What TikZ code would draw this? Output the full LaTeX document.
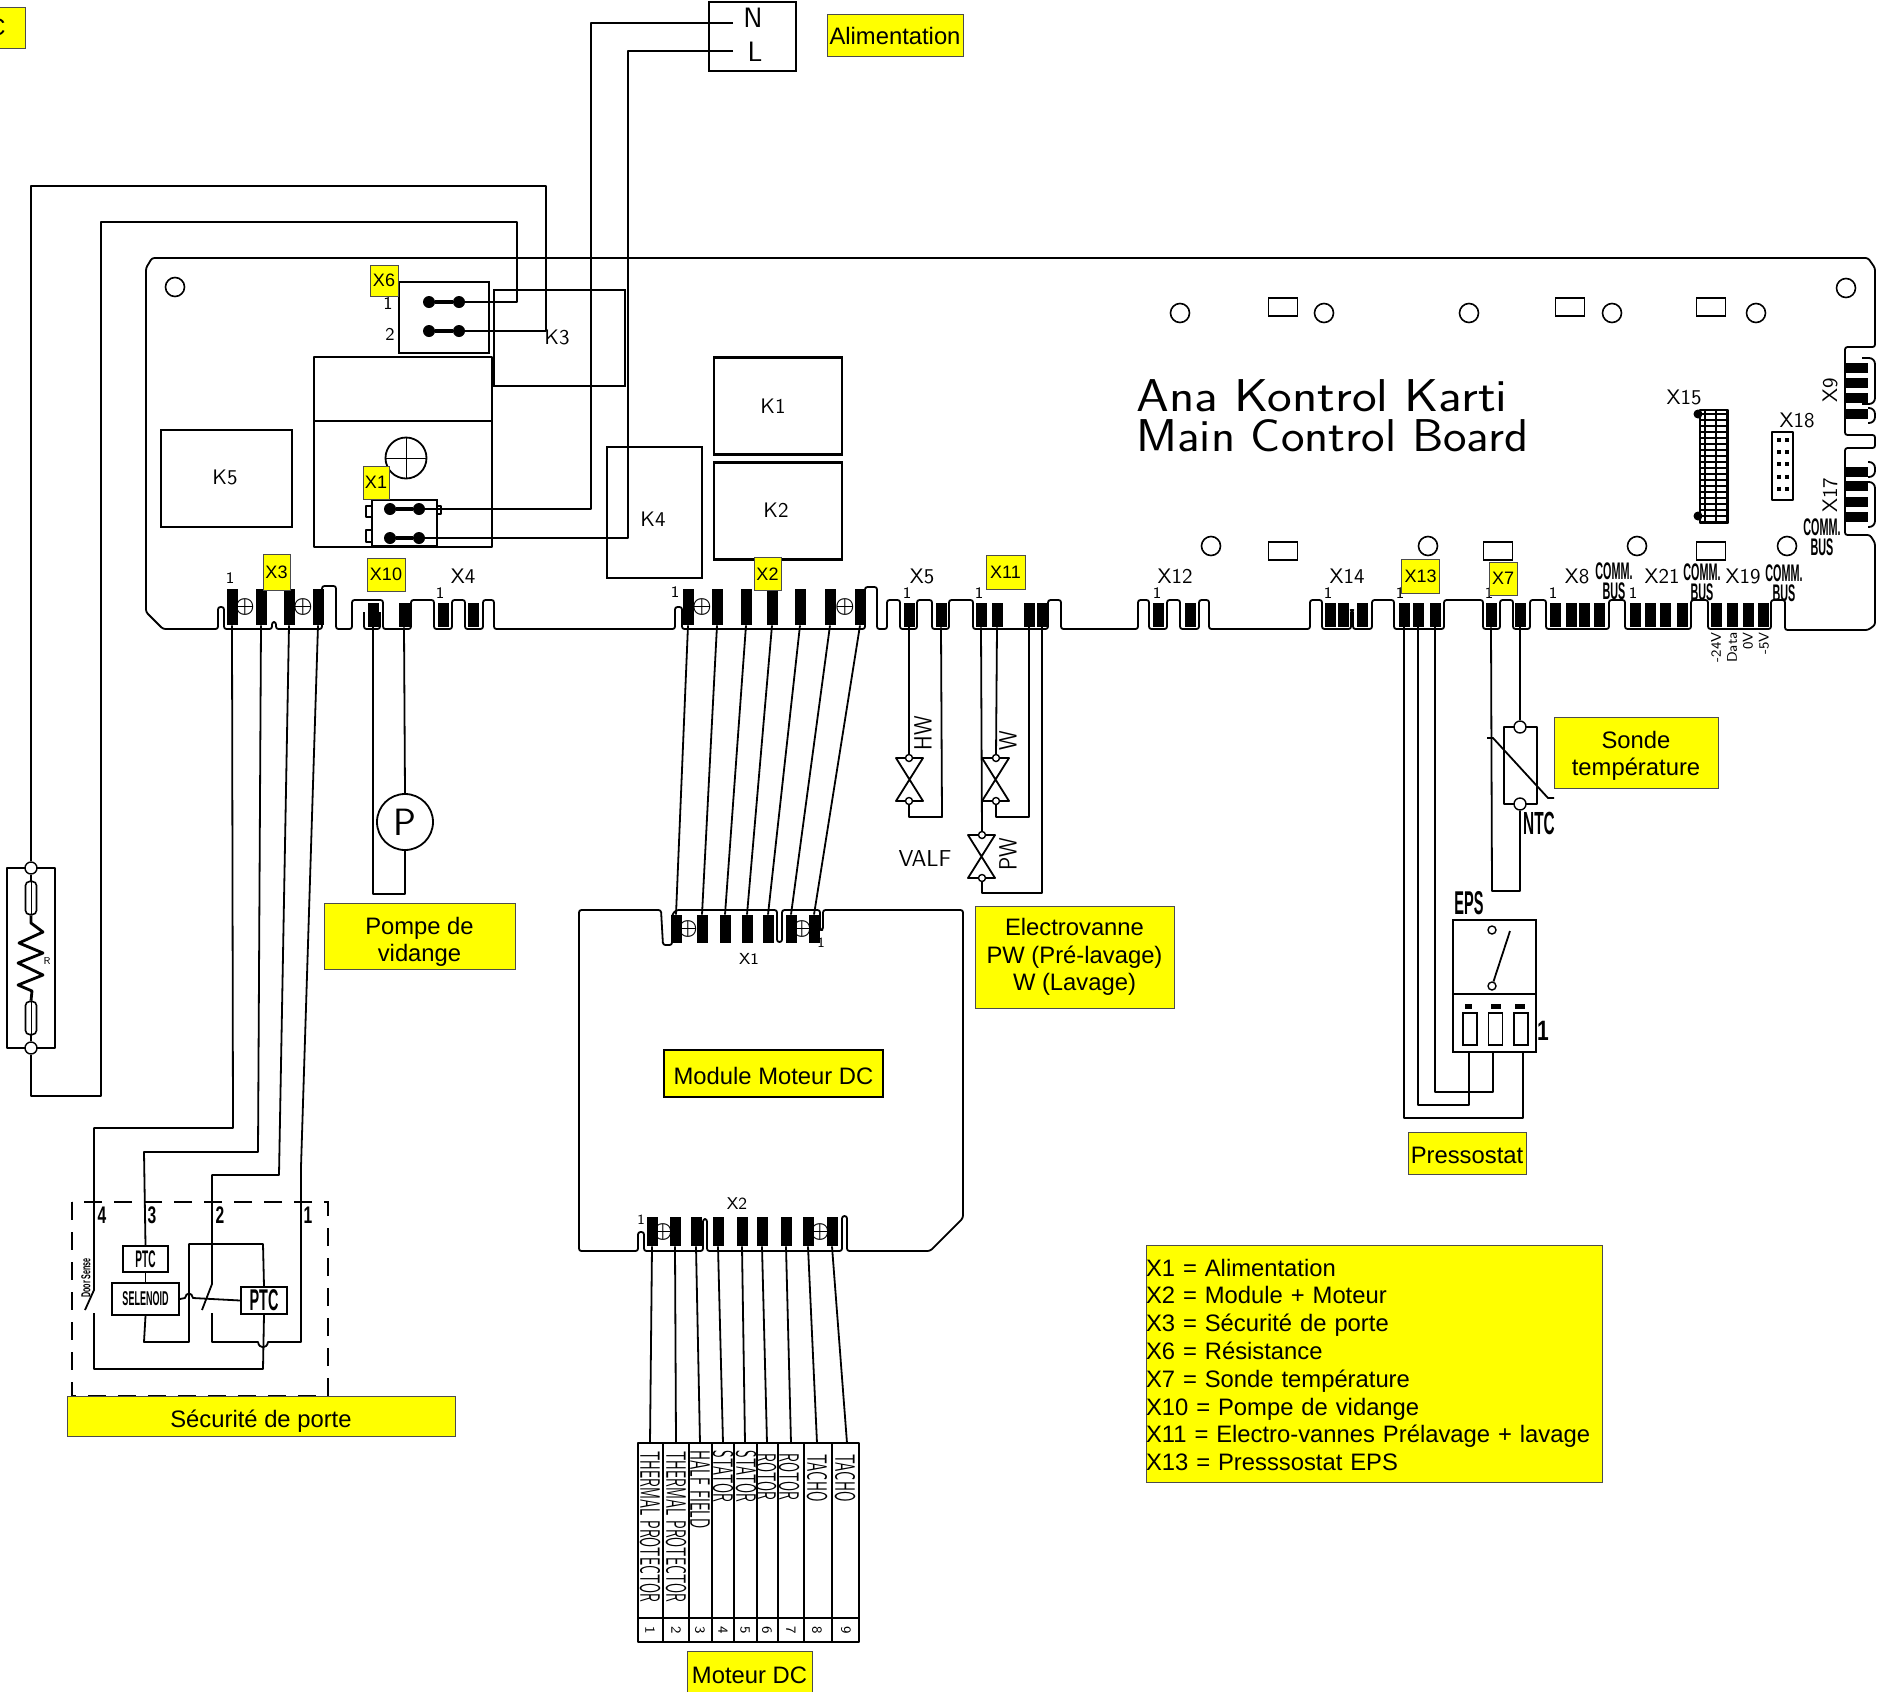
\documentclass[tikz,border=0pt]{standalone}
\usepackage{fontspec}
\usepackage{graphicx}
\setmainfont{Liberation Sans}
\usetikzlibrary{positioning, backgrounds}
\definecolor{labelyellow}{rgb}{1.0, 1.0, 0.0}
\definecolor{labeledge}{rgb}{0.3, 0.3, 0.3}
\newcommand{\cadsize}[1]{\sffamily\fontsize{#1}{#1}\selectfont}
\newcommand{\heavysize}[1]{\rmfamily\bfseries\fontsize{#1}{#1}\selectfont}
\newcommand{\squeezed}[2][.45]{\scalebox{#1}[1]{#2}}
\newcommand{\lowered}[1]{\rule{0pt}{#1}}
\begin{document}
\begin{tikzpicture}[
  x=0.5pt,
  y=-0.5pt,
  wire/.style={
    draw=black,
    line width=0.9pt,
    line join=round
  },
  board/.style={
    wire,
    rounded corners=1.2pt
  },
  relay/.style={
    draw=black,
    line width=1.2pt,
    inner sep=0pt,
    font=\cadsize{10.5}
  },
  contact/.style={
    fill=black,
    inner sep=0pt,
    minimum width=5.5pt,
    minimum height=18pt
  },
  contact low/.style={
    contact,
    minimum height=12pt
  },
  contact side/.style={
    fill=black,
    inner sep=0pt,
    minimum width=11pt,
    minimum height=5pt
  },
  stud/.style={
    circle,
    fill=black,
    inner sep=0pt,
    minimum size=6pt
  },
  term/.style={
    circle,
    draw=black,
    fill=white,
    line width=0.7pt,
    inner sep=0pt,
    minimum size=6pt
  },
  term small/.style={
    term,
    minimum size=3.5pt
  },
  hole/.style={
    circle,
    draw=black,
    line width=0.8pt,
    inner sep=0pt,
    minimum size=9.5pt
  },
  pad/.style={
    draw=black,
    line width=0.8pt,
    inner sep=0pt,
    minimum width=14.5pt,
    minimum height=9pt
  },
  screw/.style={
    inner sep=0pt,
    font=\fontsize{10.5}{10.5}\selectfont\boldmath
  },
  cad/.style={
    inner sep=0pt,
    font=\cadsize{10.5}
  },
  commbus/.style={
    inner sep=0pt,
    align=center,
    font=\heavysize{12}
  },
  tag/.style={
    fill=labelyellow,
    draw=labeledge,
    line width=0.5pt,
    inner sep=0pt,
    align=center,
    font=\fontsize{11.9}{13.6}\selectfont
  },
  tag small/.style={
    tag,
    font=\fontsize{9}{9}\selectfont
  }
]

\useasboundingbox (0,0) rectangle (1886,1692);

\draw[board] (152,258) -- (1868,258) -- (1875,268) -- (1875,347) -- (1845,347) -- (1845,435) -- (1875,435) -- (1875,448) -- (1845,448) -- (1845,535) -- (1870,535) -- (1875,543) -- (1875,625) -- (1868,630) -- (1785,630) -- (1785,600) -- (1771,600) -- (1771,629) -- (1708,629) -- (1708,600) -- (1691,600) -- (1691,629) -- (1625,629) -- (1625,600) -- (1609,600) -- (1609,629) -- (1546,629) -- (1546,600) -- (1530,600) -- (1530,629) -- (1513,629) -- (1513,600) -- (1500,600) -- (1500,629) -- (1483,629) -- (1483,600) -- (1444,600) -- (1444,629) -- (1394,629) -- (1394,600) -- (1372,600) -- (1372,629) -- (1353,629) -- (1353,610) -- (1351,610) -- (1351,629) -- (1322,629) -- (1322,600) -- (1310,600) -- (1310,629) -- (1209,629) -- (1209,600) -- (1199,600) -- (1199,629) -- (1180,629) -- (1180,600) -- (1167,600) -- (1167,629) -- (1149,629) -- (1149,600) -- (1138,600) -- (1138,629) -- (1061,629) -- (1061,600) -- (1048,600) -- (1048,629) -- (973,629) -- (973,600) -- (949,600) -- (949,629) -- (932,629) -- (932,600) -- (917,600) -- (917,629) -- (900,629) -- (900,600) -- (887,600) -- (887,629) -- (877,629) -- (877,587) -- (865,587) -- (865,629) -- (682,629) -- (682,607) -- (675,607) -- (675,629) -- (494,629) -- (494,600) -- (483,600) -- (483,629) -- (465,629) -- (465,600) -- (452,600) -- (452,629) -- (434,629) -- (434,600) -- (411,600) -- (411,629) -- (383,629) -- (383,600) -- (352,600) -- (352,629) -- (336,629) -- (336,586) -- (322,586) -- (322,629) -- (276,629) -- (276,622) -- (272,622) -- (272,629) -- (224,629) -- (224,607) -- (218,607) -- (218,629) -- (163,629) -- (146,612) -- (146,268) -- cycle;

\draw[board] (364,612) -- (364,629) -- (380,629) -- (380,612);
\draw[board, rounded corners=3pt] (1862,358) -- (1875,358) -- (1875,404) -- (1862,404);
\draw[board, rounded corners=3pt] (1868,408) -- (1875,408) -- (1875,423) -- (1868,423);
\draw[board, rounded corners=3pt] (1868,462) -- (1875,462) -- (1875,477) -- (1868,477);
\draw[board, rounded corners=3pt] (1868,482) -- (1875,482) -- (1875,527) -- (1868,527);

\node(holea)[hole] at (175,287) {};
\node(holeb)[hole] at (1180,313) {};
\node(holec)[hole] at (1324,313) {};
\node(holed)[hole] at (1469,313) {};
\node(holee)[hole] at (1612,313) {};
\node(holef)[hole] at (1756,313) {};
\node(holeg)[hole] at (1846,288) {};
\node(holeh)[hole] at (1211,546) {};
\node(holei)[hole] at (1428,546) {};
\node(holej)[hole] at (1637,546) {};
\node(holek)[hole] at (1787,546) {};

\node(pada)[pad] at (1283,307) {};
\node(padb)[pad] at (1570,307) {};
\node(padc)[pad] at (1711,307) {};
\node(padd)[pad] at (1283,551) {};
\node(pade)[pad] at (1498,551) {};
\node(padf)[pad] at (1711,551) {};

\node(k1)[relay, minimum width=64pt, minimum height=48.5pt] at (778,406) {};
\node(k2)[relay, minimum width=64pt, minimum height=48.5pt] at (778,511) {};
\node(k3)[relay, minimum width=65.5pt, minimum height=48pt] at (559.5,338) {};
\node(k4)[relay, minimum width=47.5pt, minimum height=65.5pt] at (654.5,512.5) {};
\node(k5)[relay, minimum width=65.5pt, minimum height=48.5pt] at (226.5,478.5) {};
\node(lk1)[cad] at (773,406) {K1};
\node(lk2)[cad] at (776,510) {K2};
\node(lk3)[cad] at (557,337) {K3};
\node(lk4)[cad] at (653,519) {K4};
\node(lk5)[cad] at (225,477) {K5};

\draw[wire] (314,357) rectangle (492,547);
\draw[wire] (314,421) -- (492,421);
\node(fuse)[circle, draw=black, line width=0.9pt, inner sep=0pt, minimum size=20.5pt] at (406,458) {};
\draw[wire, line width=0.5pt] (fuse.west) -- (fuse.east);
\draw[wire, line width=0.5pt] (fuse.north) -- (fuse.south);

\node(boxa)[draw=black, line width=1pt, fill=white, inner sep=0pt, minimum width=45pt, minimum height=35.5pt] at (444,317.5) {};
\node(boxb)[draw=black, line width=1pt, fill=white, inner sep=0pt, minimum width=32.5pt, minimum height=23pt] at (404.5,523) {};
\draw[wire] (372,506) -- (366,506) -- (366,517) -- (372,517);
\draw[wire] (372,530) -- (366,530) -- (366,542) -- (372,542);
\draw[wire] (437,506) -- (441,506) -- (441,514) -- (437,514);

\node(sixal)[stud] at (429,302) {};
\node(sixar)[stud] at (459,302) {};
\node(sixbl)[stud] at (429,331) {};
\node(sixbr)[stud] at (459,331) {};
\node(onear)[stud] at (419,509) {};
\node(oneal)[stud] at (390,509) {};
\node(onebr)[stud] at (419,538) {};
\node(onebl)[stud] at (390,538) {};
\draw[wire, line width=2pt] (sixal) -- (sixar);
\draw[wire, line width=2pt] (sixbl) -- (sixbr);
\draw[wire, line width=2pt] (oneal) -- (onear);
\draw[wire, line width=2pt] (onebl) -- (onebr);

\node(p3a)[contact] at (232,607) {};
\node(p3b)[contact] at (261,607) {};
\node(p3c)[contact] at (289,607) {};
\node(p3d)[contact] at (318,607) {};
\node(p10a)[contact low] at (373,615) {};
\node(p10b)[contact low] at (404,615) {};
\node(p4a)[contact low] at (443,615) {};
\node(p4b)[contact low] at (473,615) {};
\node(p2a)[contact] at (688,607) {};
\node(p2b)[contact] at (717,607) {};
\node(p2c)[contact] at (746,607) {};
\node(p2d)[contact] at (772,607) {};
\node(p2e)[contact] at (800,607) {};
\node(p2f)[contact] at (830,607) {};
\node(p2g)[contact] at (860,607) {};
\node(p5a)[contact low] at (909,615) {};
\node(p5b)[contact low] at (941,615) {};
\node(p11a)[contact low] at (981,615) {};
\node(p11b)[contact low] at (997,615) {};
\node(p11c)[contact low] at (1029,615) {};
\node(p11d)[contact low] at (1042,615) {};
\node(p12a)[contact low] at (1158,615) {};
\node(p12b)[contact low] at (1190,615) {};
\node(p14a)[contact low] at (1330,615) {};
\node(p14b)[contact low] at (1343,615) {};
\node(p14c)[contact low] at (1362,615) {};
\node(p13a)[contact low] at (1404,615) {};
\node(p13b)[contact low] at (1418,615) {};
\node(p13c)[contact low] at (1435,615) {};
\node(p7a)[contact low] at (1491,615) {};
\node(p7b)[contact low] at (1520,615) {};
\node(p8a)[contact low] at (1555,615) {};
\node(p8b)[contact low] at (1571,615) {};
\node(p8c)[contact low] at (1584,615) {};
\node(p8d)[contact low] at (1599,615) {};
\node(p21a)[contact low] at (1635,615) {};
\node(p21b)[contact low] at (1650,615) {};
\node(p21c)[contact low] at (1665,615) {};
\node(p21d)[contact low] at (1682,615) {};
\node(p19a)[contact low] at (1716,615) {};
\node(p19b)[contact low] at (1732,615) {};
\node(p19c)[contact low] at (1748,615) {};
\node(p19d)[contact low] at (1763,615) {};
\node(p9a)[contact side] at (1857,368) {};
\node(p9b)[contact side] at (1857,383) {};
\node(p9c)[contact side] at (1857,398) {};
\node(p9d)[contact side] at (1857,414) {};
\node(p17a)[contact side] at (1857,472) {};
\node(p17b)[contact side] at (1857,486) {};
\node(p17c)[contact side] at (1857,502) {};
\node(p17d)[contact side] at (1857,517) {};

\node(scra)[screw] at (245,607) {$\oplus$};
\node(scrb)[screw] at (303,607) {$\oplus$};
\node(scrc)[screw] at (702,607) {$\oplus$};
\node(scrd)[screw] at (845,607) {$\oplus$};

\draw[wire, line width=0.9pt] (1700,410) rectangle (1728,523);
\draw[wire, line width=0.7pt, xstep=5.5pt, ystep=3pt] (1700,410) grid (1728,523);
\node(xfa)[stud, minimum size=4.5pt] at (1698,414) {};
\node(xfb)[stud, minimum size=4.5pt] at (1698,516) {};
\draw[wire, line width=0.8pt] (1772,432) rectangle (1793,500);
\draw[line width=2pt, dash pattern=on 2pt off 4.1pt] (1779,438) -- (1779,498);
\draw[line width=2pt, dash pattern=on 2pt off 4.1pt] (1787,438) -- (1787,498);

\node(title1)[cad, anchor=west, font=\cadsize{23}] at (1136,396) {\squeezed[1.14]{Ana Kontrol Karti}};
\node(title2)[cad, anchor=west, font=\cadsize{23}] at (1136,436) {\squeezed[1.087]{Main Control Board}};

\node(xn1)[cad, font=\cadsize{9}] at (388,303) {1};
\node(xn2)[cad, font=\cadsize{9}] at (390,334) {2};
\node(xn3)[cad, font=\cadsize{8}] at (230,578) {1};
\node(xn4)[cad, font=\cadsize{8}] at (440,593) {1};
\node(xn5)[cad, font=\cadsize{8}] at (675,592) {1};
\node(xn6)[cad, font=\cadsize{8}] at (907,593) {1};
\node(xn7)[cad, font=\cadsize{8}] at (979,593) {1};
\node(xn8)[cad, font=\cadsize{8}] at (1157,593) {1};
\node(xn9)[cad, font=\cadsize{8}] at (1328,593) {1};
\node(xn10)[cad, font=\cadsize{8}] at (1400,593) {1};
\node(xn11)[cad, font=\cadsize{8}] at (1489,593) {1};
\node(xn12)[cad, font=\cadsize{8}] at (1553,593) {1};
\node(xn13)[cad, font=\cadsize{8}] at (1633,593) {1};

\node(lx4)[cad] at (463,576) {X4};
\node(lx5)[cad] at (922,576) {X5};
\node(lx12)[cad] at (1175,576) {X12};
\node(lx14)[cad] at (1347,576) {X14};
\node(lx8)[cad] at (1577,576) {X8};
\node(lx21)[cad] at (1662,576) {X21};
\node(lx19)[cad] at (1743,576) {X19};
\node(lx15)[cad] at (1684,397) {X15};
\node(lx18)[cad] at (1797,420) {X18};
\node(lx9)[cad, rotate=90] at (1830,390) {X9};
\node(lx17)[cad, rotate=90] at (1830,495) {X17};

\node(busa)[commbus] at (1822,537) {\squeezed{COMM.}\\[-2pt]\squeezed{BUS}};
\node(busb)[commbus] at (1614,581) {\squeezed{COMM.}\\[-2pt]\squeezed{BUS}};
\node(busc)[commbus] at (1702,582) {\squeezed{COMM.}\\[-2pt]\squeezed{BUS}};
\node(busd)[commbus] at (1784,583) {\squeezed{COMM.}\\[-2pt]\squeezed{BUS}};

\node(sigd)[cad, rotate=90, anchor=east, font=\cadsize{7}] at (1716,632) {-24V};
\node(sigc)[cad, rotate=90, anchor=east, font=\cadsize{7}] at (1732,632) {Data};
\node(sigb)[cad, rotate=90, anchor=east, font=\cadsize{7}] at (1748,632) {0V};
\node(siga)[cad, rotate=90, anchor=east, font=\cadsize{7}] at (1764,632) {-5V};

\node(supply)[draw=black, line width=1.2pt, minimum width=43.5pt, minimum height=34.5pt, inner sep=0pt] at (752.5,36.5) {};
\node(lneu)[cad, font=\cadsize{14}] at (753,18) {N};
\node(llin)[cad, font=\cadsize{14}] at (755,52) {L};
\coordinate (neu) at (733,23);
\coordinate (lin) at (733,51);
\coordinate (neu_left) at (591,23);
\coordinate (neu_down) at (591,509);
\coordinate (lin_left) at (628,51);
\coordinate (lin_down) at (628,538);
\draw[wire] (neu) -- (neu_left) -- (neu_down) -- (onear);
\draw[wire] (lin) -- (lin_left) -- (lin_down) -- (onebr);

\coordinate (res_a) at (517,302);
\coordinate (res_b) at (517,222);
\coordinate (res_c) at (101,222);
\coordinate (res_d) at (101,1096);
\coordinate (res_e) at (31,1096);
\coordinate (res_f) at (546,331);
\coordinate (res_g) at (546,186);
\coordinate (res_h) at (31,186);

\draw[wire] (7,868) rectangle (55,1048);
\node(rest)[term] at (31,868) {};
\node(resb)[term] at (31,1048) {};
\node(capa)[draw=black, line width=0.8pt, rounded corners=2pt, inner sep=0pt, minimum width=5.5pt, minimum height=16.5pt] at (31,898) {};
\node(capb)[draw=black, line width=0.8pt, rounded corners=2pt, inner sep=0pt, minimum width=5.5pt, minimum height=16.5pt] at (31,1018) {};
\draw[wire, line width=0.5pt] (capa.north) -- (capa.south);
\draw[wire, line width=0.5pt] (capb.north) -- (capb.south);
\draw[wire] (rest) -- (capa);
\draw[wire] (capb) -- (resb);
\draw[wire, line width=1.4pt] (capa.south) -- (31,923) -- (43,932) -- (19,943) -- (43,953) -- (18,963) -- (43,975) -- (18,985) -- (32,991) -- (capb.north);
\node(lres)[cad, font=\cadsize{5}] at (47,961) {R};

\draw[wire] (sixar) -- (res_a) -- (res_b) -- (res_c) -- (res_d) -- (res_e) -- (resb);
\draw[wire] (sixbr) -- (res_f) -- (res_g) -- (res_h) -- (rest);

\draw[wire] (p10a.south) -- (373,894) -- (405,894) -- (405,850);
\node(pump)[circle, draw=black, line width=0.9pt, fill=white, inner sep=0pt, minimum size=28pt, font=\cadsize{19}] at (405,822) {P};
\draw[wire] (pump.north) -- (p10b.south);

\node(m1)[contact, minimum height=14pt] at (676,929) {};
\node(m2)[contact, minimum height=14pt] at (702,929) {};
\node(m3)[contact, minimum height=14pt] at (725,929) {};
\node(m4)[contact, minimum height=14pt] at (747,929) {};
\node(m5)[contact, minimum height=14pt] at (768,929) {};
\node(m6)[contact, minimum height=14pt] at (791,929) {};
\node(m7)[contact, minimum height=14pt] at (814,929) {};
\node(scre)[screw] at (688,929) {$\oplus$};
\node(scrf)[screw] at (802,929) {$\oplus$};
\draw[wire] (p2a.south) -- (m1.north);
\draw[wire] (p2b.south) -- (m2.north);
\draw[wire] (p2c.south) -- (m3.north);
\draw[wire] (p2d.south) -- (m4.north);
\draw[wire] (p2e.south) -- (m5.north);
\draw[wire] (p2f.south) -- (m6.north);
\draw[wire] (p2g.south) -- (m7.north);

\draw[board] (579,910) -- (661,910) -- (663,945) -- (672,945) -- (672,915) -- (676,910) -- (777,910) -- (777,942) -- (782,942) -- (782,910) -- (820,910) -- (820,930) -- (823,930) -- (823,910) -- (963,910) -- (963,1218) -- (930,1251) -- (847,1251) -- (847,1216) -- (842,1216) -- (842,1251) -- (707,1251) -- (707,1219) -- (703,1219) -- (703,1251) -- (644,1251) -- (644,1232) -- (638,1232) -- (638,1251) -- (579,1251) -- cycle;

\node(n1)[contact, minimum height=14.5pt] at (652,1231.5) {};
\node(n2)[contact, minimum height=14.5pt] at (675,1231.5) {};
\node(n3)[contact, minimum height=14.5pt] at (696,1231.5) {};
\node(n4)[contact, minimum height=14.5pt] at (718,1231.5) {};
\node(n5)[contact, minimum height=14.5pt] at (742,1231.5) {};
\node(n6)[contact, minimum height=14.5pt] at (762,1231.5) {};
\node(n7)[contact, minimum height=14.5pt] at (786,1231.5) {};
\node(n8)[contact, minimum height=14.5pt] at (808,1231.5) {};
\node(n9)[contact, minimum height=14.5pt] at (832,1231.5) {};
\node(scrg)[screw] at (663,1232) {$\oplus$};
\node(scrh)[screw] at (820,1232) {$\oplus$};

\node(lmx1)[cad, font=\cadsize{8}] at (749,959) {X1};
\node(lmx2)[cad, font=\cadsize{8.5}] at (737,1204) {X2};
\node(lmn1)[cad, font=\cadsize{7}] at (821,943) {1};
\node(lmn2)[cad, font=\cadsize{7}] at (641,1220) {1};

\coordinate (s1) at (650,1443);
\coordinate (s2) at (676,1443);
\coordinate (s3) at (700,1443);
\coordinate (s4) at (723,1443);
\coordinate (s5) at (745,1443);
\coordinate (s6) at (767,1443);
\coordinate (s7) at (791,1443);
\coordinate (s8) at (817,1443);
\coordinate (s9) at (847,1443);
\draw[wire] (n1.south) -- (s1);
\draw[wire] (n2.south) -- (s2);
\draw[wire] (n3.south) -- (s3);
\draw[wire] (n4.south) -- (s4);
\draw[wire] (n5.south) -- (s5);
\draw[wire] (n6.south) -- (s6);
\draw[wire] (n7.south) -- (s7);
\draw[wire] (n8.south) -- (s8);
\draw[wire] (n9.south) -- (s9);

\draw[wire] (638,1443) rectangle (859,1642);
\draw[wire] (638,1618) -- (859,1618);
\draw[wire] (663,1443) -- (663,1642);
\draw[wire] (689,1443) -- (689,1642);
\draw[wire] (712,1443) -- (712,1642);
\draw[wire] (734,1443) -- (734,1642);
\draw[wire] (757,1443) -- (757,1642);
\draw[wire] (778,1443) -- (778,1642);
\draw[wire] (804,1443) -- (804,1642);
\draw[wire] (832,1443) -- (832,1642);

\node(wa)[cad, rotate=-90, anchor=west, font=\cadsize{14}] at (650,1451) {\squeezed[.5]{THERMAL PROTECTOR}};
\node(wb)[cad, rotate=-90, anchor=west, font=\cadsize{14}] at (676,1451) {\squeezed[.5]{THERMAL PROTECTOR}};
\node(wc)[cad, rotate=-90, anchor=west, font=\cadsize{14}] at (700,1450) {\squeezed[.52]{HALF FIELD}};
\node(wd)[cad, rotate=-90, anchor=west, font=\cadsize{14}] at (723,1450) {\squeezed[.5]{STATOR}};
\node(we)[cad, rotate=-90, anchor=west, font=\cadsize{14}] at (746,1450) {\squeezed[.5]{STATOR}};
\node(wf)[cad, rotate=-90, anchor=west, font=\cadsize{14}] at (766,1453) {\squeezed[.5]{ROTOR}};
\node(wg)[cad, rotate=-90, anchor=west, font=\cadsize{14}] at (789,1453) {\squeezed[.5]{ROTOR}};
\node(wh)[cad, rotate=-90, anchor=west, font=\cadsize{14}] at (817,1454) {\squeezed[.52]{TACHO}};
\node(wi)[cad, rotate=-90, anchor=west, font=\cadsize{14}] at (845,1454) {\squeezed[.52]{TACHO}};

\node(na)[cad, rotate=-90, font=\cadsize{7}] at (650,1630) {1};
\node(nb)[cad, rotate=-90, font=\cadsize{7}] at (676,1630) {2};
\node(nc)[cad, rotate=-90, font=\cadsize{7}] at (700,1630) {3};
\node(nd)[cad, rotate=-90, font=\cadsize{7}] at (723,1630) {4};
\node(ne)[cad, rotate=-90, font=\cadsize{7}] at (745,1630) {5};
\node(nf)[cad, rotate=-90, font=\cadsize{7}] at (767,1630) {6};
\node(ng)[cad, rotate=-90, font=\cadsize{7}] at (791,1630) {7};
\node(nh)[cad, rotate=-90, font=\cadsize{7}] at (817,1630) {8};
\node(ni)[cad, rotate=-90, font=\cadsize{7}] at (846,1630) {9};

\draw[wire] (896,758) -- (923,758) -- (896,801) -- (923,801) -- cycle;
\draw[wire] (982,758) -- (1009,758) -- (982,801) -- (1009,801) -- cycle;
\draw[wire] (968,835) -- (995,835) -- (968,878) -- (995,878) -- cycle;
\node(vat)[term small] at (909,758) {};
\node(vab)[term small] at (909,801) {};
\node(vbt)[term small] at (996,758) {};
\node(vbb)[term small] at (996,801) {};
\node(vct)[term small] at (982,835) {};
\node(vcb)[term small] at (982,878) {};
\draw[wire] (p5a.south) -- (vat);
\draw[wire] (vab) -- (909,817) -- (942,817) -- (p5b.south);
\draw[wire] (p11b.south) -- (vbt);
\draw[wire] (vbb) -- (996,817) -- (1029,817) -- (p11c.south);
\draw[wire] (p11a.south) -- (vct);
\draw[wire] (vcb) -- (982,893) -- (1042,893) -- (p11d.south);
\node(lhw)[cad, rotate=90, font=\cadsize{12.5}] at (923,733) {\squeezed[.85]{HW}};
\node(lw)[cad, rotate=90, font=\cadsize{12.5}] at (1008,741) {\squeezed[.85]{W}};
\node(lpw)[cad, rotate=90, font=\cadsize{12.5}] at (1008,854) {\squeezed[.85]{PW}};
\node(lvalf)[cad, font=\cadsize{11.5}] at (925,859) {VALF};

\draw[wire] (1504,727) rectangle (1537,804);
\node(ntct)[term] at (1520,727) {};
\node(ntcb)[term] at (1520,804) {};
\draw[wire] (p7b.south) -- (ntct);
\draw[wire] (ntcb) -- (1520,891) -- (1492,891) -- (p7a.south);
\draw[wire] (1487,738) -- (1493,738) -- (1548,798) -- (1554,798);
\node(lntc)[inner sep=0pt, font=\heavysize{16}] at (1539,823) {\squeezed[.48]{NTC}};

\node(eps)[draw=black, line width=0.9pt, inner sep=0pt, minimum width=41.5pt, minimum height=66pt] at (1494.5,986) {};
\draw[wire] (1453,994) -- (1536,994);
\node(epsa)[term, minimum size=4pt] at (1492,930) {};
\node(epsb)[term, minimum size=4pt] at (1492,986) {};
\draw[wire] (epsb) -- (1510,931);
\node(slota)[draw=black, line width=0.9pt, inner sep=0pt, minimum width=7pt, minimum height=16pt] at (1470,1029) {};
\node(slotb)[draw=black, line width=0.9pt, inner sep=0pt, minimum width=7pt, minimum height=16pt] at (1495.5,1029) {};
\node(slotc)[draw=black, line width=0.9pt, inner sep=0pt, minimum width=7pt, minimum height=16pt] at (1521,1029) {};
\fill (1465,1004) rectangle (1472,1009);
\fill (1491,1004) rectangle (1501,1009);
\fill (1515,1004) rectangle (1525,1009);
\node(leps)[inner sep=0pt, font=\heavysize{16.5}] at (1469,903) {\squeezed[.44]{EPS}};
\node(lepsn)[inner sep=0pt, font=\heavysize{14}] at (1543,1031) {\squeezed[.75]{1}};
\coordinate (eps_a) at (1469,1052);
\coordinate (eps_b) at (1493,1052);
\coordinate (eps_c) at (1523,1052);
\draw[wire] (p13c.south) -- (1435,1092) -- (1493,1092) -- (eps_b);
\draw[wire] (p13b.south) -- (1418,1105) -- (1469,1105) -- (eps_a);
\draw[wire] (p13a.south) -- (1404,1118) -- (1523,1118) -- (eps_c);

\draw[line width=0.8pt, dash pattern=on 9pt off 6pt] (72,1202) rectangle (328,1396);

\node(ptcs)[draw=black, line width=0.9pt, fill=white, inner sep=0pt, minimum width=22.5pt, minimum height=13pt, font=\heavysize{12}] at (145.5,1259) {\squeezed[.42]{PTC}};
\node(selen)[draw=black, line width=0.9pt, fill=white, inner sep=0pt, minimum width=33.5pt, minimum height=16pt, font=\heavysize{10}] at (145.5,1299) {\squeezed{SELENOID}};
\node(ptcb)[draw=black, line width=0.9pt, fill=white, inner sep=0pt, minimum width=23pt, minimum height=13.5pt, font=\heavysize{15}] at (264,1300.5) {\squeezed[.48]{PTC}};

\coordinate (four_a) at (233,1128);
\coordinate (four_b) at (94,1128);
\coordinate (four_c) at (94,1290);
\coordinate (four_d) at (85,1310);
\coordinate (four_e) at (94,1313);
\coordinate (four_f) at (94,1369);
\coordinate (four_g) at (263,1369);
\coordinate (three_a) at (258,1152);
\coordinate (three_b) at (144,1152);
\coordinate (two_a) at (279,1175);
\coordinate (two_b) at (212,1175);
\coordinate (two_c) at (212,1284);
\coordinate (two_d) at (202,1310);
\coordinate (one_a) at (301,1167);
\coordinate (one_b) at (301,1342);
\coordinate (one_c) at (212,1342);
\coordinate (one_d) at (212,1313);
\coordinate (loop_a) at (263,1244);
\coordinate (loop_b) at (189,1244);
\coordinate (loop_c) at (189,1342);
\coordinate (loop_d) at (144,1342);

\draw[wire] (p3a.south) -- (four_a) -- (four_b) -- (four_c) -- (four_d);
\draw[wire] (four_e) -- (four_f) -- (four_g) -- (ptcb.south);
\draw[wire] (p3b.south) -- (three_a) -- (three_b) -- (ptcs.north);
\draw[wire] (ptcs.south) -- (selen.north);
\draw[wire] (p3c.south) -- (two_a) -- (two_b) -- (two_c) -- (two_d);
\draw[wire] (p3d.south) -- (one_a) -- (one_b) -- (268,1342) .. controls (267,1349) and (259,1349) .. (258,1342) -- (one_c) -- (one_d);
\draw[wire] (ptcb.north) -- (loop_a) -- (loop_b) -- (loop_c) -- (loop_d) -- (selen.south);
\draw[wire] (selen.east) -- (185,1298) .. controls (186,1292) and (192,1292) .. (193,1298) -- (ptcb.west);

\node(pa)[inner sep=0pt, font=\heavysize{12}] at (102,1215) {\squeezed[.65]{4}};
\node(pb)[inner sep=0pt, font=\heavysize{12}] at (152,1215) {\squeezed[.65]{3}};
\node(pc)[inner sep=0pt, font=\heavysize{12}] at (220,1215) {\squeezed[.65]{2}};
\node(pd)[inner sep=0pt, font=\heavysize{12}] at (308,1215) {\squeezed[.65]{1}};
\node(ldoor)[inner sep=0pt, rotate=90, font=\heavysize{6.5}] at (86,1278) {\squeezed[.55]{Door Sense}};

\node(tagc)[tag, minimum width=28pt, minimum height=20.5pt] at (-3,27.5) {C};
\node(tagalim)[tag, minimum width=68pt, minimum height=21pt] at (895,35) {\lowered{9.8pt}Alimentation};
\node(tagx6)[tag small, minimum width=14pt, minimum height=15.5pt] at (384,280.5) {X6};
\node(tagx1)[tag small, minimum width=13pt, minimum height=16.5pt] at (376,482.5) {X1};
\node(tagx3)[tag small, minimum width=13.5pt, minimum height=18pt] at (276.5,572) {X3};
\node(tagx10)[tag small, minimum width=19pt, minimum height=16.5pt] at (386,574.5) {X10};
\node(tagx2)[tag small, minimum width=13.5pt, minimum height=16.5pt] at (767.5,574) {X2};
\node(tagx11)[tag small, minimum width=19.5pt, minimum height=17pt] at (1005.5,572) {X11};
\node(tagx13)[tag small, minimum width=19pt, minimum height=17pt] at (1420.5,576) {X13};
\node(tagx7)[tag small, minimum width=14pt, minimum height=16.5pt] at (1503,578.5) {X7};
\node(tagsonde)[tag, minimum width=82pt, minimum height=35.5pt] at (1636,752.5) {\lowered{11.6pt}Sonde\\temp\'erature};
\node(tagpompe)[tag, minimum width=95.5pt, minimum height=33pt] at (419.5,936.5) {\lowered{13.6pt}Pompe de\\vidange};
\node(tagelec)[tag, minimum width=99.5pt, minimum height=51pt] at (1074.5,957) {Electrovanne\\PW (Pr\'e-lavage)\\W (Lavage)};
\node(tagmodule)[tag, line width=1pt, draw=black, minimum width=109.5pt, minimum height=23.5pt] at (773.5,1073.5) {\lowered{11pt}Module Moteur DC};
\node(tagpress)[tag, minimum width=59pt, minimum height=21pt] at (1467,1153) {\lowered{11pt}Pressostat};
\node(tagsecu)[tag, minimum width=194pt, minimum height=20pt] at (261,1416) {\lowered{13.5pt}S\'ecurit\'e de porte};
\node(tagmoteur)[tag, minimum width=62.5pt, minimum height=20.5pt] at (749.5,1671.5) {\lowered{12.2pt}Moteur DC};
\node(taglegend)[tag, text width=228pt, minimum height=118.5pt, align=left, font=\fontsize{11.9}{13.9}\selectfont] at (1374,1363.5) {\lowered{10pt}X1 = Alimentation\\X2 = Module + Moteur\\X3 = S\'ecurit\'e de porte\\X6 = R\'esistance\\X7 = Sonde temp\'erature\\X10 = Pompe de vidange\\X11 = Electro-vannes Pr\'elavage + lavage\\X13 = Presssostat EPS};

\end{tikzpicture}
\end{document}
